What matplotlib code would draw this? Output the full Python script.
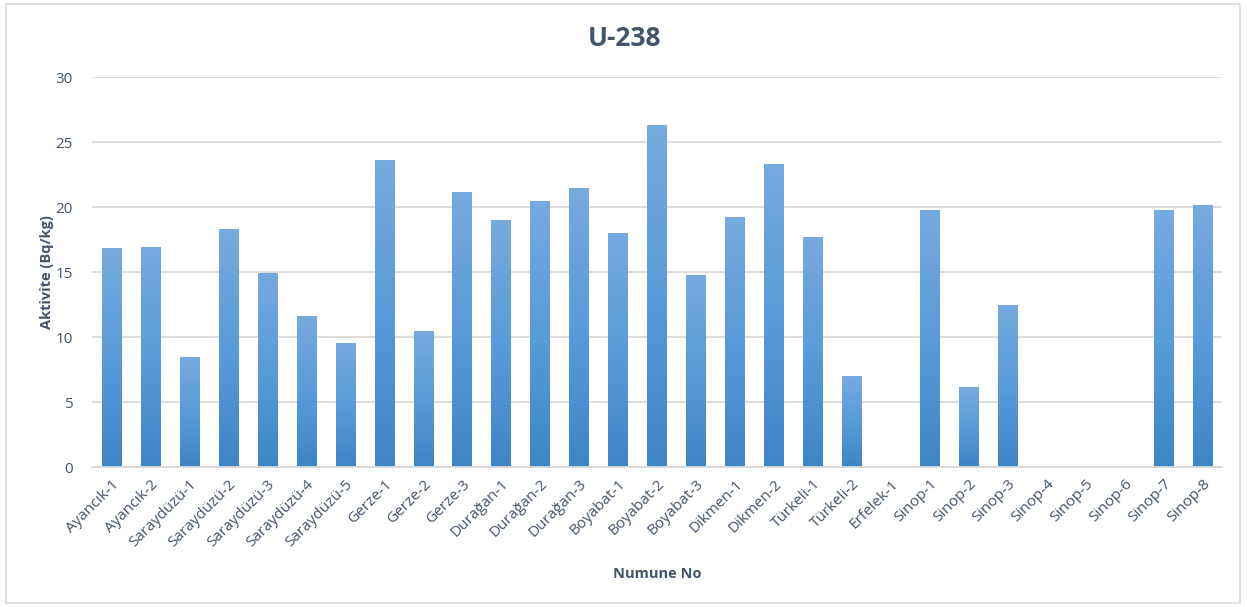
import numpy as np
import matplotlib.pyplot as plt
from matplotlib.colors import LinearSegmentedColormap
from matplotlib.patches import Rectangle

samples = ["Ayancık-1", "Ayancık-2", "Saraydüzü-1", "Saraydüzü-2", "Saraydüzü-3",
           "Saraydüzü-4", "Saraydüzü-5", "Gerze-1", "Gerze-2", "Gerze-3",
           "Durağan-1", "Durağan-2", "Durağan-3", "Boyabat-1", "Boyabat-2",
           "Boyabat-3", "Dikmen-1", "Dikmen-2", "Türkeli-1", "Türkeli-2",
           "Erfelek-1", "Sinop-1", "Sinop-2", "Sinop-3", "Sinop-4", "Sinop-5",
           "Sinop-6", "Sinop-7", "Sinop-8"]
u238 = [16.8, 16.9, 8.4, 18.3, 14.85, 11.6, 9.5, 23.6, 10.4, 21.1,
        19.0, 20.4, 21.4, 18.0, 26.3, 14.75, 19.2, 23.3, 17.65, 6.95,
        0, 19.7, 6.15, 12.4, 0, 0, 0, 19.7, 20.15]

text_col = "#44546A"
grid_col = "#D9D9D9"
plt.rcParams["font.family"] = ["Open Sans", "DejaVu Sans"]

fig = plt.figure(figsize=(12.47, 6.07), dpi=100)
ax = fig.add_axes([0.0738, 0.2306, 0.9062, 0.6425])

x = np.arange(len(samples))
bars = ax.bar(x, u238, width=0.5, color="none", linewidth=0, zorder=3)

# Excel-like vertical gradient in each bar
cmap = LinearSegmentedColormap.from_list("g", ["#3E85C6", "#5A9BD9", "#77AADE"])
grad = np.linspace(0, 1, 256).reshape(-1, 1)
for b in bars:
    h = b.get_height()
    if h <= 0:
        continue
    x0 = b.get_x()
    ax.imshow(grad, extent=[x0, x0 + b.get_width(), 0, h], origin="lower",
              cmap=cmap, aspect="auto", zorder=2, interpolation="bilinear")

ax.set_xlim(-0.5, len(samples) - 0.5)
ax.set_ylim(0, 30)
ax.set_yticks(range(0, 31, 5))
ax.set_xticks(x)
ax.set_xticklabels(samples, rotation=45, ha="right", rotation_mode="anchor")

ax.grid(axis="y", color=grid_col, linewidth=1.3, zorder=0)
ax.set_axisbelow(True)
for s in ["top", "right", "left"]:
    ax.spines[s].set_visible(False)
ax.spines["bottom"].set_color(grid_col)
ax.spines["bottom"].set_linewidth(1.3)
ax.spines["bottom"].set_zorder(4)
ax.tick_params(axis="both", length=0, colors=text_col, labelsize=11)
ax.tick_params(axis="y", pad=14)
ax.tick_params(axis="x", pad=7)

fig.suptitle("U-238", x=0.501, y=0.958, fontsize=19, fontweight="bold",
             color=text_col)
ax.set_ylabel("Aktivite (Bq/kg)", fontsize=10.5, fontweight="bold", color=text_col,
              labelpad=1)
ax.set_xlabel("Numune No", fontsize=10.5, fontweight="bold", color=text_col,
              labelpad=12)

fig.patches.append(Rectangle((0.005, 0.006), 0.989, 0.988, transform=fig.transFigure,
                             fill=False, edgecolor=grid_col, linewidth=1.2))

fig.savefig("out.png", dpi=100)
